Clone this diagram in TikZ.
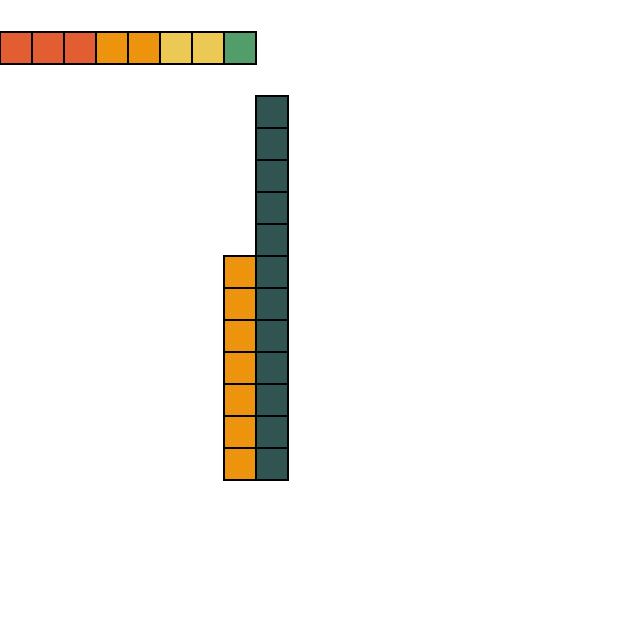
\documentclass[tikz,border=0pt]{standalone}
\definecolor{tileRed}{HTML}{E35D33}
\definecolor{tileOrange}{HTML}{EE930D}
\definecolor{tileYellow}{HTML}{EBC953}
\definecolor{tileGreen}{HTML}{529E6A}
\definecolor{tileTeal}{HTML}{2F5451}

\begin{document}
\begin{tikzpicture}[x=0.5cm,y=-0.5cm,line width=0.9pt]
  \useasboundingbox (0,0) rectangle (20,20);

  % top row: 3 red, 2 orange, 2 yellow, 1 green
  \foreach \x/\c in {0/tileRed,1/tileRed,2/tileRed,3/tileOrange,4/tileOrange,5/tileYellow,6/tileYellow,7/tileGreen} {
    \filldraw[fill=\c] (\x,1) rectangle (\x+1,2);
  }

  % teal column (12)
  \foreach \y in {3,...,14} {
    \filldraw[fill=tileTeal] (8,\y) rectangle (9,\y+1);
  }

  % orange column (7)
  \foreach \y in {8,...,14} {
    \filldraw[fill=tileOrange] (7,\y) rectangle (8,\y+1);
  }
\end{tikzpicture}
\end{document}
